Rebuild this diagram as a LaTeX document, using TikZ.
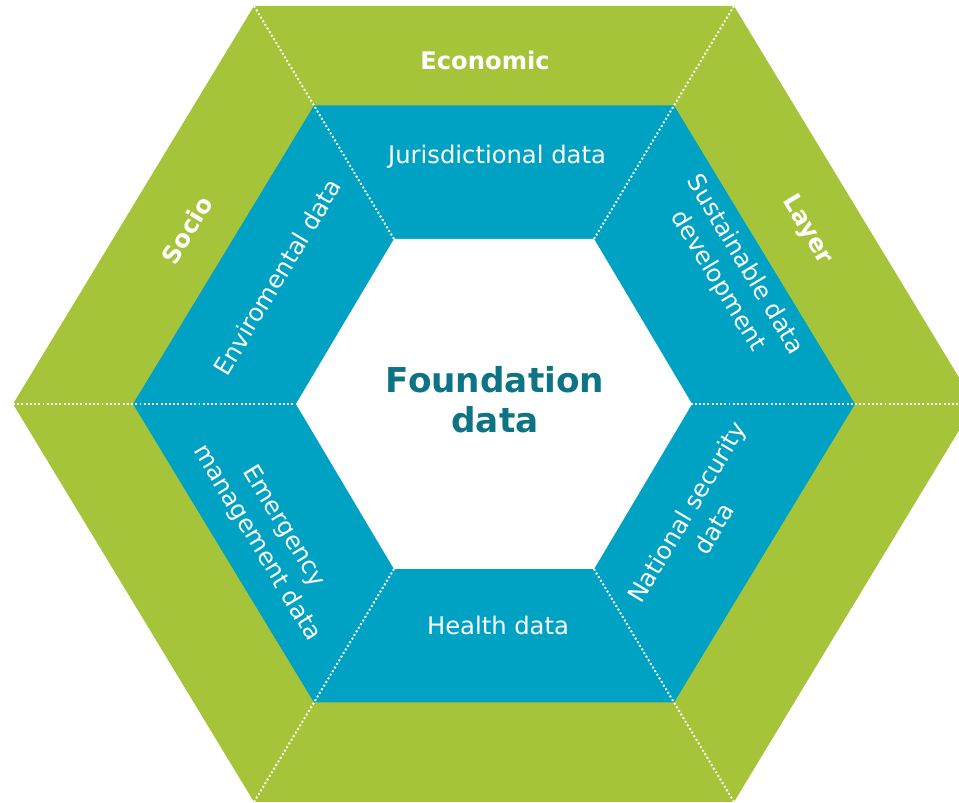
\documentclass[tikz,border=0pt]{standalone}
\usepackage{fontspec}
\setmainfont{DejaVu Sans}
\definecolor{hexgreen}{RGB}{166,196,58}
\definecolor{hexblue}{RGB}{0,162,196}
\definecolor{hexteal}{RGB}{14,115,132}
\begin{document}
\begin{tikzpicture}[x=0.02cm,y=0.02cm,
  sep/.style={white,line width=1.1pt,dash pattern=on 1.1pt off 1.3pt},
  lbl/.style={white,font=\fontsize{13.8}{18}\selectfont,align=center},
  tag/.style={white,font=\fontsize{13.8}{18}\selectfont\bfseries}]
  \useasboundingbox (0,0) rectangle (959,803);
  % corners of the three rings
  \begin{scope}[shift={(494,399)}]
    \foreach \n/\a/\b/\h in {o/240/481/398,b/180/361/298.5,i/100/198/165}{
      \coordinate (\n1) at (\a,\h);
      \coordinate (\n2) at (-\a,\h);
      \coordinate (\n3) at (-\b,0);
      \coordinate (\n4) at (-\a,-\h);
      \coordinate (\n5) at (\a,-\h);
      \coordinate (\n6) at (\b,0);
    }
  \end{scope}
  \fill[hexgreen] (o1) -- (o2) -- (o3) -- (o4) -- (o5) -- (o6) -- cycle;
  \fill[hexblue]  (b1) -- (b2) -- (b3) -- (b4) -- (b5) -- (b6) -- cycle;
  \fill[white]    (i1) -- (i2) -- (i3) -- (i4) -- (i5) -- (i6) -- cycle;
  \foreach \k in {1,...,6}
    \draw[sep] (o\k) -- (b\k) -- (i\k);

  \node[tag] (econ) at (485,743) {Economic};
  \node[tag,rotate=59] (socio) at (187,573) {Socio};
  \node[tag,rotate=-59] (layer) at (807,573) {Layer};

  \node[lbl] (jur) at (497,646) {Jurisdictional data};
  \node[lbl,rotate=59] (env) at (277,526) {Enviromental data};
  \node[lbl,rotate=-59] (sus) at (731,530) {Sustainable data\\development};
  \node[lbl,rotate=-59] (emg) at (270,268) {Emergency\\management data};
  \node[lbl,rotate=59] (nat) at (700,283) {National security\\data};
  \node[lbl] (hlth) at (498,178) {Health data};

  \node[hexteal,font=\fontsize{19.5}{23}\selectfont\bfseries,align=center] (found) at (495,403) {Foundation\\data};
\end{tikzpicture}
\end{document}
